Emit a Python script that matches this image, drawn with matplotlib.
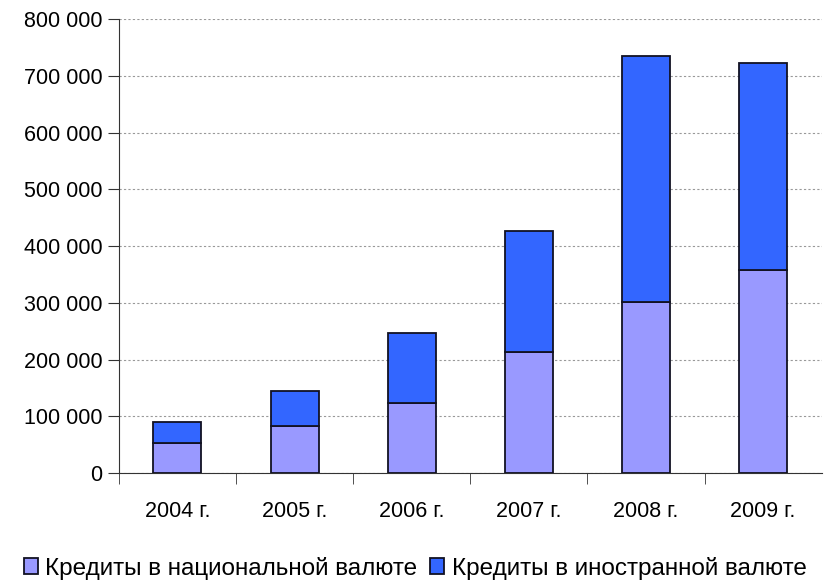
import matplotlib
matplotlib.use("Agg")
import matplotlib.pyplot as plt
import numpy as np
from matplotlib.ticker import FuncFormatter, MultipleLocator

plt.rcParams["font.family"] = ["Liberation Sans", "DejaVu Sans"]

YEARS = ["2004 г.", "2005 г.", "2006 г.", "2007 г.", "2008 г.", "2009 г."]
NATIONAL = [52900, 82200, 123500, 213900, 300900, 358600]
FOREIGN_TOTAL = [90500, 143900, 247400, 426800, 734700, 723100]
FOREIGN = [t - n for t, n in zip(FOREIGN_TOTAL, NATIONAL)]

LABELS = ["Кредиты в национальной валюте", "Кредиты в иностранной валюте"]
COLORS = ["#9999FF", "#3366FF"]

fig = plt.figure(figsize=(8.25, 5.84), dpi=100)
ax = fig.add_axes([0.144, 0.19, 0.852, 0.777])

x = np.arange(len(YEARS))
ax.bar(x, NATIONAL, width=0.41, color=COLORS[0], edgecolor="#111122", linewidth=1.3,
       label=LABELS[0], zorder=3)
ax.bar(x, FOREIGN, width=0.41, bottom=NATIONAL, color=COLORS[1], edgecolor="#111122",
       linewidth=1.3, label=LABELS[1], zorder=3)

ax.set_xlim(-0.5, len(YEARS) - 0.5)
ax.set_ylim(0, 800000)
ax.yaxis.set_major_locator(MultipleLocator(100000))
ax.yaxis.set_major_formatter(FuncFormatter(lambda v, _: f"{int(v):,}".replace(",", " ")))
ax.grid(axis="y", color="#999999", linestyle=(0, (2, 2)), linewidth=0.8, zorder=0)

ax.set_xticks(x)
ax.set_xticklabels(YEARS)
ax.set_xticks(np.arange(-0.5, len(YEARS) - 0.5), minor=True)
ax.tick_params(axis="x", which="major", length=0, pad=20, labelsize=15.5)
ax.tick_params(axis="x", which="minor", length=8, color="#333333")
ax.tick_params(axis="y", length=8, color="#333333", labelsize=15.5, pad=4)

for side in ["top", "right"]:
    ax.spines[side].set_visible(False)
for side in ["left", "bottom"]:
    ax.spines[side].set_color("#333333")

fig.legend(loc="lower center", bbox_to_anchor=(0.503, -0.03), ncol=2, frameon=False,
           fontsize=17.5, handlelength=0.6, handleheight=0.6, handletextpad=0.3,
           columnspacing=0.5)

fig.savefig("out.png", dpi=100)
